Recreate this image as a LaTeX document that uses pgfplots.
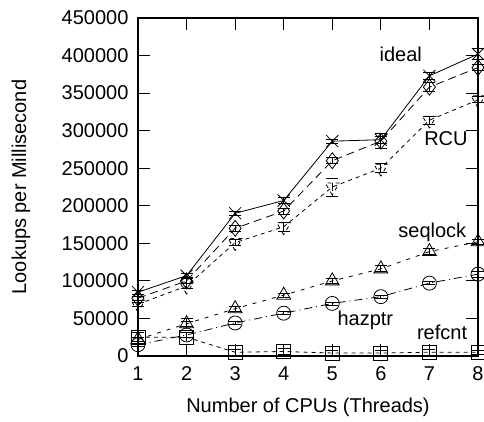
\documentclass[border=0pt]{standalone}
\usepackage{fontspec}
\setmainfont{Liberation Sans}
\usepackage{pgfplots}
\pgfplotsset{compat=1.18}
\begin{document}
\begin{tikzpicture}[font=\fontsize{20bp}{24bp}\selectfont]
\useasboundingbox (-138bp,-66bp) rectangle (346bp,356bp);
\begin{axis}[
  at={(0,0)}, anchor=south west,
  scale only axis, width=340bp, height=338bp,
  xmin=1, xmax=8, ymin=0, ymax=450000,
  xtick={1,2,3,4,5,6,7,8},
  ytick={0,50000,100000,150000,200000,250000,300000,350000,400000,450000},
  scaled y ticks=false,
  /pgf/number format/assume math mode=true,
  yticklabel style={/pgf/number format/fixed, /pgf/number format/1000 sep={}, xshift=-6bp},
  xticklabel style={yshift=-7bp},
  tick align=inside, major tick length=12bp,
  every tick/.style={black, line width=1bp},
  axis line style={line width=1.6bp},
  every axis x label/.style={at={(axis description cs:0.5,-0.1515)}, anchor=center},
  every axis y label/.style={at={(axis description cs:-0.344,0.5)}, rotate=90, anchor=center},
  xlabel={Number of CPUs (Threads)},
  ylabel={Lookups per Millisecond},
  clip=false,
  error bars/y dir=both, error bars/y explicit,
  error bars/error mark options={rotate=90, mark size=6bp, line width=0.8bp},
  error bars/error bar style={line width=0.8bp},
  every axis plot/.append style={black, line width=0.8bp, mark options={solid, line width=0.8bp}},
]
% ideal
\addplot[solid, mark=x, mark size=8.5bp] coordinates {
 (1,85000) +- (0,3000) (2,107000) +- (0,3000) (3,190000) +- (0,3000) (4,207000) +- (0,4000)
 (5,286000) +- (0,3000) (6,288000) +- (0,5000) (7,373000) +- (0,5000) (8,402000) +- (0,7000)};
% unlabeled diamond
\addplot[dash pattern=on 8bp off 5bp, mark=diamond, mark size=8bp] coordinates {
 (1,77000) +- (0,3000) (2,100000) +- (0,3000) (3,170000) +- (0,4000) (4,193000) +- (0,4000)
 (5,260000) +- (0,4000) (6,286000) +- (0,10000) (7,358000) +- (0,6000) (8,384000) +- (0,4000)};
% RCU
\addplot[dash pattern=on 4bp off 4bp, mark=triangle, mark size=8bp, mark options={rotate=180}] coordinates {
 (1,69000) +- (0,3000) (2,93000) +- (0,3000) (3,151000) +- (0,4000) (4,172000) +- (0,6000)
 (5,225000) +- (0,12000) (6,250000) +- (0,6000) (7,314000) +- (0,5000) (8,341000) +- (0,4000)};
% seqlock
\addplot[dash pattern=on 4bp off 6bp, mark=triangle, mark size=8bp] coordinates {
 (1,22000) +- (0,3000) (2,43000) +- (0,3000) (3,63000) +- (0,3000) (4,81000) +- (0,3000)
 (5,100000) +- (0,3000) (6,116000) +- (0,4000) (7,139000) +- (0,4000) (8,152000) +- (0,3000)};
% hazptr
\addplot[dash pattern=on 8bp off 4bp on 1bp off 4bp, mark=o, mark size=7bp] coordinates {
 (1,15000) +- (0,2000) (2,28000) +- (0,3000) (3,44000) +- (0,2000) (4,57000) +- (0,2000)
 (5,70000) +- (0,2000) (6,79000) +- (0,2000) (7,97000) +- (0,2000) (8,109000) +- (0,4000)};
% refcnt
\addplot[dash pattern=on 4bp off 4bp, mark=square, mark size=7bp] coordinates {
 (1,25000) +- (0,6000) (2,25000) +- (0,25000) (3,5000) +- (0,4000) (4,6000) +- (0,4000)
 (5,4000) +- (0,4000) (6,4000) +- (0,4000) (7,5000) +- (0,4000) (8,5000) +- (0,3000)};
\node at (axis cs:6.41,401000) {ideal};
\node at (axis cs:7.34,289000) {RCU};
\node at (axis cs:7.06,164000) {seqlock};
\node at (axis cs:5.68,48000) {hazptr};
\node at (axis cs:7.26,31000) {refcnt};
\end{axis}
\end{tikzpicture}
\end{document}
